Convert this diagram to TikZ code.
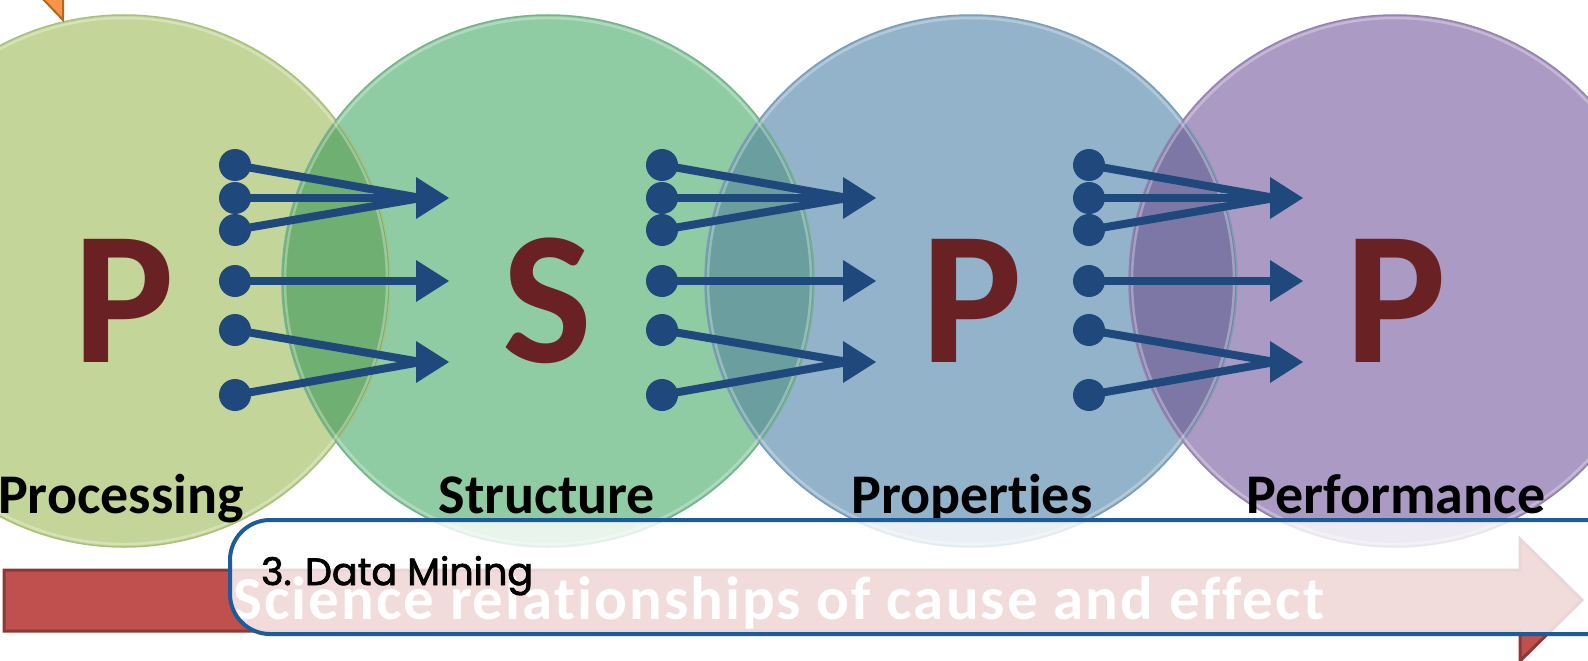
\documentclass[tikz,border=0pt]{standalone}
\usepackage{fontspec}
\setmainfont{Carlito}[RawFeature={-liga}]
\newfontfamily\gothic{Poppins}[FakeBold=2]
\usetikzlibrary{arrows.meta,calc}
\definecolor{cA}{HTML}{C3D598}
\definecolor{cB}{HTML}{8FCBA3}
\definecolor{cC}{HTML}{93B3CB}
\definecolor{cD}{HTML}{AB9AC3}
\definecolor{lAB}{HTML}{6FAF71}
\definecolor{lBC}{HTML}{6A9E9F}
\definecolor{lCD}{HTML}{7D77A6}
\definecolor{rimA}{HTML}{A9BF7C}
\definecolor{rimB}{HTML}{74B38B}
\definecolor{rimC}{HTML}{7A9DB8}
\definecolor{rimD}{HTML}{9482B0}
\definecolor{letter}{HTML}{6A2124}
\definecolor{arrowblue}{HTML}{1F487C}
\definecolor{boxblue}{HTML}{1D5C9B}
\definecolor{redfill}{HTML}{C0504D}
\definecolor{redline}{HTML}{8C3836}
\definecolor{orfill}{HTML}{F79646}
\definecolor{orline}{HTML}{B3661F}
\begin{document}
\begin{tikzpicture}[x=1pt,y=-1pt,
  bigletter/.style={text=letter, anchor=base, inner sep=0pt, font=\fontsize{190}{190}\selectfont\bfseries},
  label/.style={text=black, anchor=base, inner sep=0pt, font=\fontsize{56}{56}\selectfont\bfseries},
  dotnode/.style={circle, fill=arrowblue, minimum size=32pt, inner sep=0pt},
  conn/.style={arrowblue, line width=8pt},
  headtip/.style={fill=arrowblue},
  rim/.style={line width=1.5pt},
  hilite/.style={white, opacity=0.3, line width=2.5pt}]
\useasboundingbox (0,0) rectangle (1588,661);
% circle centres
\coordinate (cenA) at (124,281);
\coordinate (cenB) at (548,281);
\coordinate (cenC) at (971,281);
\coordinate (cenD) at (1395,281);
% circles
\fill[cA] (cenA) circle[radius=266pt];
\fill[cB] (cenB) circle[radius=266pt];
\fill[cC] (cenC) circle[radius=266pt];
\fill[cD] (cenD) circle[radius=266pt];
% lenses
\begin{scope}\clip (cenA) circle[radius=266pt]; \fill[lAB] (cenB) circle[radius=266pt];\end{scope}
\begin{scope}\clip (cenB) circle[radius=266pt]; \fill[lBC] (cenC) circle[radius=266pt];\end{scope}
\begin{scope}\clip (cenC) circle[radius=266pt]; \fill[lCD] (cenD) circle[radius=266pt];\end{scope}
% rims
\draw[rim, rimA] (cenA) circle[radius=266pt];
\draw[rim, rimB] (cenB) circle[radius=266pt];
\draw[rim, rimC] (cenC) circle[radius=266pt];
\draw[rim, rimD] (cenD) circle[radius=266pt];
\draw[hilite] (cenA) circle[radius=263pt];
\draw[hilite] (cenB) circle[radius=263pt];
\draw[hilite] (cenC) circle[radius=263pt];
\draw[hilite] (cenD) circle[radius=263pt];
% orange arrow tip
\filldraw[fill=orfill, draw=orline, line width=2pt] (41,-3) -- (63,-3) -- (63,20) -- cycle;
% big letters
\node[bigletter] (LA) at (124,362) {P};
\node[bigletter] (LB) at (547,362) {S};
\node[bigletter] (LC) at (972,362) {P};
\node[bigletter] (LD) at (1396,362) {P};
% labels
\node[label] (tA) at (121,513) {Processing};
\node[label] (tB) at (547,513) {Structure};
\node[label] (tC) at (972,513) {Properties};
\node[label] (tD) at (1396,513) {Performance};
% arrow groups
\foreach \g/\x in {1/235, 2/662, 3/1089} {
  \node[dotnode] (g\g d1) at (\x,165) {};
  \node[dotnode] (g\g d2) at (\x,198) {};
  \node[dotnode] (g\g d3) at (\x,230) {};
  \node[dotnode] (g\g d4) at (\x,281) {};
  \node[dotnode] (g\g d5) at (\x,330) {};
  \node[dotnode] (g\g d6) at (\x,395) {};
  \coordinate (g\g b1) at (\x+186,198);
  \coordinate (g\g b2) at (\x+186,281);
  \coordinate (g\g b3) at (\x+186,362);
  \draw[conn] (g\g d1.center) -- (g\g b1);
  \draw[conn] (g\g d3.center) -- (g\g b1);
  \draw[conn] (g\g d2.center) -- (g\g b1);
  \draw[conn] (g\g d4.center) -- (g\g b2);
  \draw[conn] (g\g d5.center) -- (g\g b3);
  \draw[conn] (g\g d6.center) -- (g\g b3);
  \foreach \k in {1,2,3} {
    \fill[headtip] ($(g\g b\k)+(-5,-21)$) -- ($(g\g b\k)+(28,0)$) -- ($(g\g b\k)+(-5,21)$) -- cycle;
  }
}
% red arrow
\filldraw[fill=redfill, draw=redline, line width=3pt]
  (4,570) -- (1520,570) -- (1520,539) -- (1582,600) -- (1520,661) -- (1520,631) -- (4,631) -- cycle;
\node[anchor=base west, inner sep=0pt, text=white, font=\fontsize{61}{61}\selectfont\bfseries\addfontfeatures{LetterSpace=3.3}] (sci) at (233,619) {Science relationships of cause and effect};
% overlay box
\draw[boxblue, line width=4pt, fill=white, fill opacity=0.8, rounded corners=40pt] (230,520) rectangle (1660,634);
\node[anchor=base west, inner sep=0pt, text=black, font=\gothic\fontsize{38}{38}\selectfont] (dm) at (261,585) {3. Data Mining};
\end{tikzpicture}
\end{document}
